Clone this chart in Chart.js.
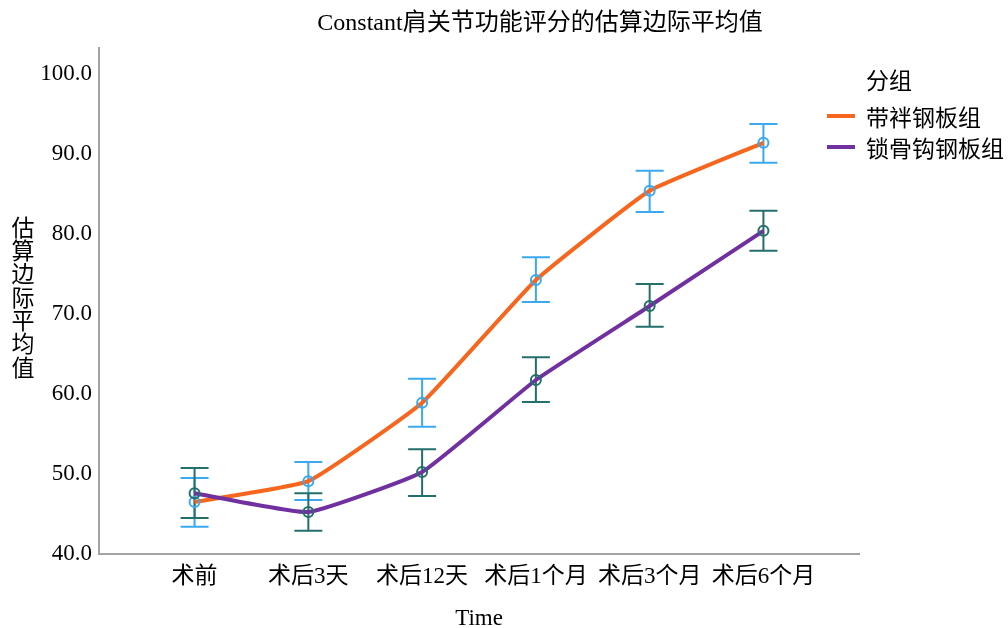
<!DOCTYPE html>
<html>
<head>
<meta charset="utf-8">
<script src="https://cdn.jsdelivr.net/npm/chart.js@4/dist/chart.umd.min.js"></script>
<style>
    body { margin: 0; background: #fff; }
    #wrap { width: 1008px; height: 628px; }
</style>
</head>
<body>
<div id="wrap"><canvas id="chartMedias" width="1008" height="628"></canvas></div>
<script>
// Datos
const timeLabels = ['术前', '术后3天', '术后12天', '术后1个月', '术后3个月', '术后6个月'];
const yTicks = [40, 50, 60, 70, 80, 90, 100];

const platMeans = [46.5, 49.1, 58.9, 74.25, 85.4, 91.4];
const platLower = [43.4, 46.75, 55.9, 71.5, 82.75, 88.9];
const platUpper = [49.5, 51.5, 61.9, 77.1, 87.9, 93.75];

const hookMeans = [47.6, 45.25, 50.25, 61.75, 71.0, 80.4];
const hookLower = [44.5, 42.9, 47.25, 59.0, 68.4, 77.9];
const hookUpper = [50.75, 47.6, 53.1, 64.6, 73.75, 82.9];

const serieNames = ['带袢钢板组', '锁骨钩钢板组'];
const chartTitle = 'Constant肩关节功能评分的估算边际平均值';
const legendTitle = '分组';
const yTitleChars = ['估', '算', '边', '际', '平', '均', '值'];

const FONT = '"Liberation Serif", "Noto Sans CJK SC", serif';
const CJK = '"Noto Sans CJK SC", sans-serif';

// Barras de error (IC) para cada serie
const errorSets = [
    { lower: platLower, upper: platUpper, color: '#3aa9ef' },
    { lower: hookLower, upper: hookUpper, color: '#246f6c' }
];

const toPoints = arr => arr.map((v, i) => ({ x: i, y: v }));

const errorBarPlugin = {
    id: 'errorBars',
    beforeDatasetsDraw(chart) {
        const { ctx, scales: { x, y } } = chart;
        errorSets.forEach(set => {
            ctx.save();
            ctx.strokeStyle = set.color;
            ctx.lineWidth = 2;
            set.lower.forEach((lo, i) => {
                const px = x.getPixelForValue(i);
                const pLo = y.getPixelForValue(lo);
                const pHi = y.getPixelForValue(set.upper[i]);
                ctx.beginPath();
                ctx.moveTo(px, pLo);
                ctx.lineTo(px, pHi);
                ctx.moveTo(px - 14, pLo);
                ctx.lineTo(px + 14, pLo);
                ctx.moveTo(px - 14, pHi);
                ctx.lineTo(px + 14, pHi);
                ctx.stroke();
            });
            ctx.restore();
        });
    }
};

// Título, título vertical del eje Y y leyenda a la derecha
const extrasPlugin = {
    id: 'extras',
    afterDraw(chart) {
        const ctx = chart.ctx;
        ctx.save();
        ctx.fillStyle = '#000';
        ctx.textBaseline = 'middle';

        ctx.font = '24px ' + FONT;
        ctx.textAlign = 'center';
        ctx.fillText(chartTitle, 540, 24);

        ctx.font = '23px ' + CJK;
        yTitleChars.forEach((c, i) => ctx.fillText(c, 23, 227 + i * 23.3));

        ctx.textAlign = 'left';
        ctx.fillText(legendTitle, 866, 80);
        const rows = [116, 147];
        chart.data.datasets.forEach((ds, i) => {
            ctx.strokeStyle = ds.borderColor;
            ctx.lineWidth = 4;
            ctx.beginPath();
            ctx.moveTo(827, rows[i]);
            ctx.lineTo(855, rows[i]);
            ctx.stroke();
            ctx.fillText(ds.label, 866, rows[i] + 1);
        });
        ctx.restore();
    }
};

const ctx = document.getElementById('chartMedias').getContext('2d');
new Chart(ctx, {
    type: 'line',
    data: {
        datasets: [
            {
                label: serieNames[0],
                data: toPoints(platMeans),
                borderColor: '#f7661e',
                borderWidth: 4,
                tension: 0.12,
                pointRadius: 5,
                pointBorderWidth: 2,
                pointBorderColor: '#3aa9ef',
                pointBackgroundColor: 'rgba(0,0,0,0)',
                order: 1
            },
            {
                label: serieNames[1],
                data: toPoints(hookMeans),
                borderColor: '#7030a0',
                borderWidth: 4,
                tension: 0.12,
                pointRadius: 5,
                pointBorderWidth: 2,
                pointBorderColor: '#246f6c',
                pointBackgroundColor: 'rgba(0,0,0,0)',
                order: 0
            }
        ]
    },
    options: {
        responsive: false,
        animation: false,
        devicePixelRatio: 1,
        layout: { padding: { left: 0, right: 149, top: 48, bottom: 0 } },
        plugins: {
            legend: { display: false },
            tooltip: { enabled: false },
            title: { display: false }
        },
        scales: {
            x: {
                type: 'linear',
                min: -0.84,
                max: 5.84,
                grid: { display: false, drawTicks: false },
                border: { color: '#a3a3a3', width: 2 },
                afterBuildTicks: scale => { scale.ticks = timeLabels.map((_, i) => ({ value: i })); },
                afterFit: scale => { scale.height = 74; },
                ticks: {
                    color: '#000',
                    padding: 9,
                    maxRotation: 0,
                    autoSkip: false,
                    font: { family: FONT, size: 23 },
                    callback: v => timeLabels[v]
                },
                title: {
                    display: true,
                    text: 'Time',
                    color: '#000',
                    font: { family: FONT, size: 23, lineHeight: 0.8 },
                    padding: 0
                }
            },
            y: {
                min: 40,
                max: 103.25,
                grid: { display: false, drawTicks: false },
                border: { color: '#a3a3a3', width: 2 },
                afterBuildTicks: scale => { scale.ticks = yTicks.map(v => ({ value: v })); },
                afterFit: scale => { scale.width = 99; },
                ticks: {
                    color: '#000',
                    padding: 7,
                    font: { family: FONT, size: 23 },
                    callback: v => v.toFixed(1)
                }
            }
        }
    },
    plugins: [errorBarPlugin, extrasPlugin]
});
</script>
</body>
</html>
